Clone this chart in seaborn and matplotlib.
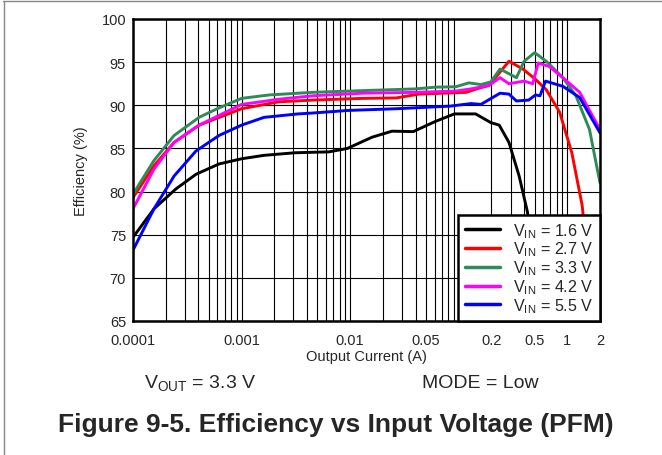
import numpy as np
import pandas as pd
import matplotlib
matplotlib.use("Agg")
import matplotlib.pyplot as plt
from matplotlib.ticker import LogLocator, FixedLocator, FixedFormatter, NullFormatter
from matplotlib.lines import Line2D
import seaborn as sns

# Efficiency curves (x in A, y in %)
x_16 = [0.0001, 0.000156, 0.000248, 0.000380, 0.000620, 0.001, 0.00161, 0.00313, 0.00637,
        0.00943, 0.0159, 0.0243, 0.0381, 0.0602, 0.0912, 0.143, 0.197, 0.236, 0.29, 0.36, 0.43, 0.51, 0.58]
y_16 = [74.7, 78.0, 80.3, 82.0, 83.2, 83.8, 84.2, 84.5, 84.6,
        85.0, 86.3, 87.0, 86.95, 88.1, 89.0, 89.0, 88.0, 87.7, 85.7, 81.8, 77.6, 70.7, 62.0]

x_27 = [0.0001, 0.000156, 0.000239, 0.000406, 0.001, 0.0022, 0.0045, 0.013, 0.0265,
        0.043, 0.117, 0.155, 0.19, 0.29, 0.39, 0.51, 0.64, 0.85, 1.1, 1.37, 1.52, 1.75]
y_27 = [79.3, 83.0, 85.7, 87.7, 89.6, 90.4, 90.6, 90.8, 90.85,
        91.3, 91.5, 92.0, 92.3, 95.1, 94.2, 93.0, 91.8, 89.2, 84.5, 78.4, 73.0, 60.0]

x_33 = [0.0001, 0.000156, 0.000239, 0.000406, 0.00062, 0.001, 0.0018, 0.0045, 0.013,
        0.040, 0.061, 0.094, 0.124, 0.16, 0.197, 0.24, 0.34, 0.40, 0.50, 0.64, 0.91, 1.2, 1.6, 2.0]
y_33 = [79.7, 83.6, 86.5, 88.6, 89.7, 90.8, 91.2, 91.5, 91.7,
        91.9, 92.1, 92.15, 92.6, 92.4, 92.7, 94.2, 93.2, 95.1, 96.1, 95.1, 93.2, 91.1, 87.2, 81.0]

x_42 = [0.0001, 0.000156, 0.000239, 0.000406, 0.001, 0.0022, 0.0045, 0.013, 0.040,
        0.094, 0.13, 0.19, 0.24, 0.29, 0.40, 0.48, 0.54, 0.68, 0.91, 1.3, 2.0]
y_42 = [78.0, 82.6, 85.7, 87.7, 90.1, 90.7, 91.1, 91.4, 91.5,
        91.65, 91.9, 92.3, 93.2, 92.5, 92.8, 92.5, 94.9, 94.5, 93.2, 91.5, 87.2]

x_55 = [0.0001, 0.000156, 0.000239, 0.000380, 0.00062, 0.001, 0.00161, 0.0033, 0.0045,
        0.0095, 0.0265, 0.083, 0.13, 0.16, 0.24, 0.29, 0.34, 0.44, 0.51, 0.56, 0.63, 0.91, 1.3, 2.0]
y_55 = [73.2, 78.0, 81.8, 84.7, 86.5, 87.7, 88.6, 89.0, 89.1,
        89.4, 89.6, 89.9, 90.2, 90.1, 91.4, 91.3, 90.5, 90.6, 91.2, 91.1, 92.8, 92.2, 90.9, 86.8]

series = ["V$_\\mathregular{IN}$ = 1.6 V", "V$_\\mathregular{IN}$ = 2.7 V", "V$_\\mathregular{IN}$ = 3.3 V",
          "V$_\\mathregular{IN}$ = 4.2 V", "V$_\\mathregular{IN}$ = 5.5 V"]
colors = ["#000000", "#ff0000", "#2e8b57", "#ff00ff", "#0000ff"]

xticks = [0.0001, 0.001, 0.01, 0.05, 0.2, 0.5, 1, 2]
xticklabels = ["0.0001", "0.001", "0.01", "0.05", "0.2", "0.5", "1", "2"]
yticks = [65, 70, 75, 80, 85, 90, 95, 100]

frames = []
for name, xs, ys in zip(series, [x_16, x_27, x_33, x_42, x_55], [y_16, y_27, y_33, y_42, y_55]):
    frames.append(pd.DataFrame({"current": xs, "eff": ys, "vin": name}))
df = pd.concat(frames, ignore_index=True)

sns.set_style("white")
plt.rcParams["font.family"] = ["Liberation Sans", "DejaVu Sans"]
plt.rcParams["mathtext.fontset"] = "custom"
plt.rcParams["mathtext.rm"] = "Liberation Sans"

fig = plt.figure(figsize=(6.62, 4.56), dpi=100)
ax = fig.add_axes([133 / 662, 1 - 322 / 456, 467 / 662, 302 / 456])

sns.lineplot(data=df, x="current", y="eff", hue="vin", palette=colors, hue_order=series,
             estimator=None, sort=False, linewidth=2.1, ax=ax)

ax.set_xscale("log")
ax.set_xlim(0.0001, 2)
ax.set_ylim(65, 100)
ax.xaxis.set_major_locator(FixedLocator(xticks))
ax.xaxis.set_major_formatter(FixedFormatter(xticklabels))
ax.xaxis.set_minor_locator(LogLocator(base=10, subs=np.arange(2, 10), numticks=20))
ax.xaxis.set_minor_formatter(NullFormatter())
ax.set_yticks(yticks)
ax.grid(True, which="both", axis="x", color="black", linewidth=0.8)
ax.grid(True, which="major", axis="y", color="black", linewidth=0.8)
ax.tick_params(axis="both", which="both", length=0, labelsize=10.5)
ax.tick_params(axis="x", pad=9)
ax.tick_params(axis="y", pad=5)
for s in ax.spines.values():
    s.set_color("black")
    s.set_linewidth(1.8)

ax.set_xlabel("Output Current (A)", fontsize=10.5, labelpad=1)
ax.set_ylabel("Efficiency (%)", fontsize=10.5, labelpad=10)

leg = ax.legend(loc="lower right", borderaxespad=0, fontsize=11.6, frameon=True, fancybox=False,
                framealpha=1, edgecolor="black", handlelength=2.2, labelspacing=0.0,
                borderpad=0.4, handletextpad=0.8)
leg.get_frame().set_linewidth(1.8)
for ln in leg.get_lines():
    ln.set_linewidth(2.5)

fig.text(0.302, 1 - 384 / 456, "V$_\\mathregular{OUT}$ = 3.3 V", fontsize=14, ha="center", va="center")
fig.text(0.725, 1 - 384 / 456, "MODE = Low", fontsize=14, ha="center", va="center")
fig.text(336 / 662, 1 - 425 / 456, "Figure 9-5. Efficiency vs Input Voltage (PFM)", fontsize=19,
         fontweight="bold", ha="center", va="center")

# thin page border on top and left edge
fig.add_artist(Line2D([3 / 662, 1], [1 - 1.5 / 456, 1 - 1.5 / 456], color="#888888", linewidth=1))
fig.add_artist(Line2D([3.5 / 662, 3.5 / 662], [0, 1 - 1.5 / 456], color="#888888", linewidth=1))

fig.savefig("out.png", dpi=100)
